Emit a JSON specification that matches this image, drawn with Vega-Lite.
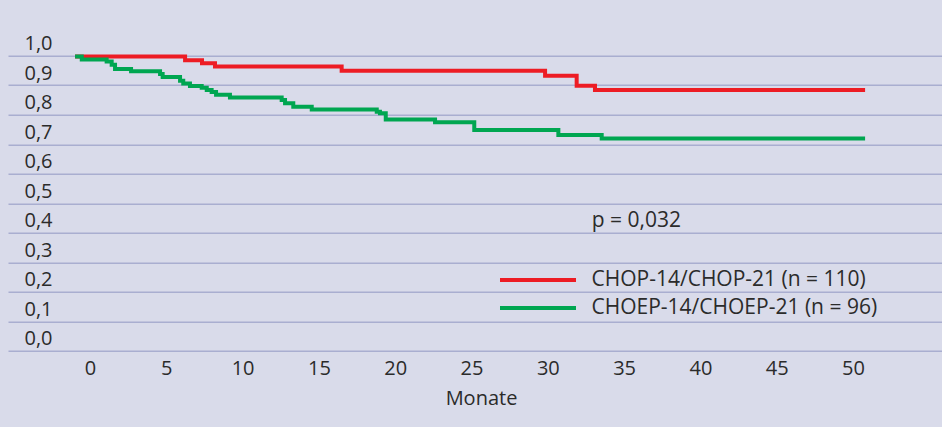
{
  "$schema": "https://vega.github.io/schema/vega-lite/v6.json",
  "width": 934,
  "height": 295,
  "autosize": {"type": "none"},
  "padding": {"left": 8, "top": 55.7, "right": 0, "bottom": 76.3},
  "background": "#d9dbea",
  "config": {
    "view": {"stroke": null},
    "font": "Open Sans",
    "text": {"font": "Open Sans"}
  },
  "datasets": {
    "km": [
      {"gruppe": "CHOP-14/CHOP-21 (n = 110)", "monat": -0.98, "rate": 0.997},
      {"gruppe": "CHOP-14/CHOP-21 (n = 110)", "monat": 6.23, "rate": 0.985},
      {"gruppe": "CHOP-14/CHOP-21 (n = 110)", "monat": 7.34, "rate": 0.974},
      {"gruppe": "CHOP-14/CHOP-21 (n = 110)", "monat": 8.19, "rate": 0.963},
      {"gruppe": "CHOP-14/CHOP-21 (n = 110)", "monat": 16.49, "rate": 0.949},
      {"gruppe": "CHOP-14/CHOP-21 (n = 110)", "monat": 29.82, "rate": 0.932},
      {"gruppe": "CHOP-14/CHOP-21 (n = 110)", "monat": 31.89, "rate": 0.898},
      {"gruppe": "CHOP-14/CHOP-21 (n = 110)", "monat": 33.09, "rate": 0.884},
      {"gruppe": "CHOP-14/CHOP-21 (n = 110)", "monat": 50.79, "rate": 0.884},
      {"gruppe": "CHOEP-14/CHOEP-21 (n = 96)", "monat": -0.98, "rate": 0.997},
      {"gruppe": "CHOEP-14/CHOEP-21 (n = 96)", "monat": -0.54, "rate": 0.987},
      {"gruppe": "CHOEP-14/CHOEP-21 (n = 96)", "monat": 1.09, "rate": 0.98},
      {"gruppe": "CHOEP-14/CHOEP-21 (n = 96)", "monat": 1.42, "rate": 0.969},
      {"gruppe": "CHOEP-14/CHOEP-21 (n = 96)", "monat": 1.64, "rate": 0.955},
      {"gruppe": "CHOEP-14/CHOEP-21 (n = 96)", "monat": 2.69, "rate": 0.947},
      {"gruppe": "CHOEP-14/CHOEP-21 (n = 96)", "monat": 4.59, "rate": 0.938},
      {"gruppe": "CHOEP-14/CHOEP-21 (n = 96)", "monat": 4.76, "rate": 0.928},
      {"gruppe": "CHOEP-14/CHOEP-21 (n = 96)", "monat": 5.9, "rate": 0.915},
      {"gruppe": "CHOEP-14/CHOEP-21 (n = 96)", "monat": 6.11, "rate": 0.906},
      {"gruppe": "CHOEP-14/CHOEP-21 (n = 96)", "monat": 6.55, "rate": 0.897},
      {"gruppe": "CHOEP-14/CHOEP-21 (n = 96)", "monat": 7.32, "rate": 0.891},
      {"gruppe": "CHOEP-14/CHOEP-21 (n = 96)", "monat": 7.65, "rate": 0.884},
      {"gruppe": "CHOEP-14/CHOEP-21 (n = 96)", "monat": 7.97, "rate": 0.877},
      {"gruppe": "CHOEP-14/CHOEP-21 (n = 96)", "monat": 8.26, "rate": 0.868},
      {"gruppe": "CHOEP-14/CHOEP-21 (n = 96)", "monat": 9.17, "rate": 0.858},
      {"gruppe": "CHOEP-14/CHOEP-21 (n = 96)", "monat": 12.56, "rate": 0.85},
      {"gruppe": "CHOEP-14/CHOEP-21 (n = 96)", "monat": 12.78, "rate": 0.839},
      {"gruppe": "CHOEP-14/CHOEP-21 (n = 96)", "monat": 13.32, "rate": 0.827},
      {"gruppe": "CHOEP-14/CHOEP-21 (n = 96)", "monat": 14.53, "rate": 0.818},
      {"gruppe": "CHOEP-14/CHOEP-21 (n = 96)", "monat": 18.79, "rate": 0.81},
      {"gruppe": "CHOEP-14/CHOEP-21 (n = 96)", "monat": 19.0, "rate": 0.805},
      {"gruppe": "CHOEP-14/CHOEP-21 (n = 96)", "monat": 19.38, "rate": 0.784},
      {"gruppe": "CHOEP-14/CHOEP-21 (n = 96)", "monat": 22.61, "rate": 0.774},
      {"gruppe": "CHOEP-14/CHOEP-21 (n = 96)", "monat": 25.18, "rate": 0.748},
      {"gruppe": "CHOEP-14/CHOEP-21 (n = 96)", "monat": 30.69, "rate": 0.731},
      {"gruppe": "CHOEP-14/CHOEP-21 (n = 96)", "monat": 33.53, "rate": 0.719},
      {"gruppe": "CHOEP-14/CHOEP-21 (n = 96)", "monat": 50.79, "rate": 0.719}
    ],
    "notiz": [
      {"monat": 32.88, "rate": 0.42, "text": "p = 0,032"}
    ]
  },
  "encoding": {
    "x": {
      "field": "monat",
      "type": "quantitative",
      "scale": {"domain": [-5.374, 55.83], "nice": false, "zero": false},
      "axis": {
        "values": [0, 5, 10, 15, 20, 25, 30, 35, 40, 45, 50],
        "grid": false,
        "domain": false,
        "ticks": false,
        "tickSize": 0,
        "labelFontSize": 20,
        "labelColor": "#2b2b2b",
        "labelBaseline": "alphabetic",
        "labelPadding": 24,
        "labelFont": "Open Sans",
        "title": "Monate",
        "titleFont": "Open Sans",
        "titleFontSize": 20,
        "titleFontWeight": "normal",
        "titleColor": "#2b2b2b",
        "titleX": 473,
        "titleY": 54,
        "titleBaseline": "alphabetic"
      }
    },
    "y": {
      "field": "rate",
      "type": "quantitative",
      "scale": {"domain": [0, 1], "nice": false, "zero": false},
      "axis": {
        "values": [0, 0.1, 0.2, 0.3, 0.4, 0.5, 0.6, 0.7, 0.8, 0.9, 1.0],
        "tickCount": 11,
        "labelExpr": "replace(format(datum.value, '.1f'), '.', ',')",
        "grid": true,
        "gridColor": "#a9aed0",
        "gridWidth": 1.6,
        "domain": false,
        "ticks": false,
        "tickSize": 0,
        "labelAlign": "left",
        "labelPadding": -16,
        "labelBaseline": "alphabetic",
        "labelOffset": -6,
        "labelFontSize": 20,
        "labelFont": "Open Sans",
        "labelColor": "#2b2b2b",
        "labelBound": false,
        "labelOverlap": false,
        "labelFlush": false,
        "title": null
      }
    }
  },
  "layer": [
    {
      "data": {"name": "km"},
      "mark": {"type": "line", "interpolate": "step-after", "strokeWidth": 4, "strokeCap": "butt"},
      "encoding": {
        "color": {
          "field": "gruppe",
          "type": "nominal",
          "scale": {
            "domain": ["CHOP-14/CHOP-21 (n = 110)", "CHOEP-14/CHOEP-21 (n = 96)"],
            "range": ["#ed1c24", "#00a651"]
          },
          "legend": {
            "orient": "none",
            "legendX": 518.5,
            "legendY": 212.8,
            "title": null,
            "padding": 0,
            "symbolType": "M-4,0H4",
            "symbolSize": 361,
            "symbolStrokeWidth": 4,
            "labelFontSize": 21,
            "labelFont": "Open Sans",
            "labelColor": "#2b2b2b",
            "labelOffset": 42,
            "labelLimit": 500,
            "rowPadding": 6
          }
        }
      }
    },
    {
      "data": {"name": "notiz"},
      "mark": {"type": "text", "align": "left", "baseline": "alphabetic", "fontSize": 21, "font": "Open Sans", "color": "#2b2b2b"},
      "encoding": {
        "text": {"field": "text"}
      }
    }
  ]
}
